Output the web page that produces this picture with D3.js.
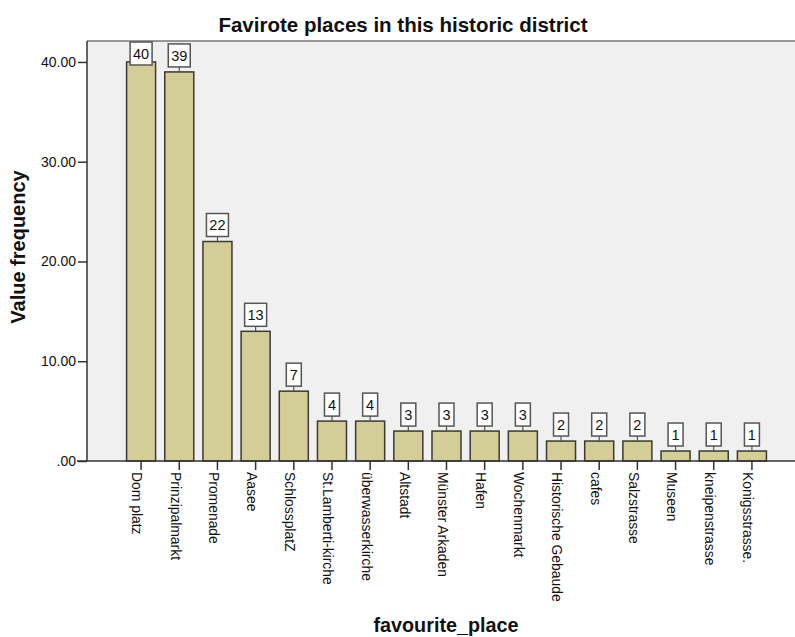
<!DOCTYPE html>
<html>
<head>
<meta charset="utf-8">
<script src="https://cdn.jsdelivr.net/npm/d3@7"></script>
<style>
  body { margin: 0; background: #fff; }
  text { font-family: "Liberation Sans", Arial, sans-serif; fill: #111; }
  .axis path, .axis line { stroke: #333; stroke-width: 1.5; }
</style>
</head>
<body>
<div id="chart"></div>
<script>
// data
var places = ["Dom platz", "Prinzipalmarkt", "Promenade", "Aasee", "SchlossplatZ",
  "St.Lamberti-kirche", "überwasserkirche", "Altstadt", "Münster Arkaden", "Hafen",
  "Wochenmarkt", "Historische Gebaude", "cafes", "Salzstrasse", "Museen",
  "kneipenstrasse", "Konigsstrasse."];
var counts = [40, 39, 22, 13, 7, 4, 4, 3, 3, 3, 3, 2, 2, 2, 1, 1, 1];
var y_ticks = [0, 10, 20, 30, 40];

var data = places.map(function(p, i) { return {name: p, value: counts[i]}; });

var width = 795, height = 637;
var plot = {left: 87, top: 41, right: 795, bottom: 461};

var svg = d3.select("#chart")
  .append("svg")
  .attr("width", width)
  .attr("height", height);

var xScale = d3.scaleBand()
  .range([122, 771])
  .domain(places)
  .paddingInner(0.24)
  .paddingOuter(0.12);

var yScale = d3.scaleLinear()
  .range([plot.bottom, plot.top])
  .domain([0, 42.1]);

// tick labels like spss: .00, 10.00 ...
function fmt(v) { return v === 0 ? ".00" : d3.format(".2f")(v); }

// plot background
svg.append("rect")
  .attr("x", plot.left)
  .attr("y", plot.top)
  .attr("width", plot.right - plot.left)
  .attr("height", plot.bottom - plot.top)
  .attr("fill", "#f0f0f0");

svg.append("line")
  .attr("x1", plot.left).attr("x2", plot.right)
  .attr("y1", plot.top).attr("y2", plot.top)
  .attr("stroke", "#777").attr("stroke-width", 1.5);

// y axis
var yAxis = svg.append("g")
  .attr("class", "axis")
  .attr("transform", "translate(" + plot.left + ",0)")
  .call(d3.axisLeft(yScale).tickValues(y_ticks).tickFormat(fmt).tickSize(9).tickSizeOuter(0));
yAxis.select(".domain").attr("d", "M0," + plot.top + "V" + plot.bottom);
yAxis.selectAll("text")
  .attr("x", -11)
  .style("font-size", "14px")
  .style("font-family", "Liberation Sans, Arial, sans-serif")
  .attr("fill", "#111");

// bars
svg.selectAll(".bar")
  .data(data)
  .enter()
  .append("rect")
  .attr("class", "bar")
  .attr("x", function(d) { return xScale(d.name); })
  .attr("y", function(d) { return yScale(d.value); })
  .attr("width", xScale.bandwidth())
  .attr("height", function(d) { return yScale(0) - yScale(d.value); })
  .attr("fill", "#d3ce98")
  .attr("stroke", "#3a3a32")
  .attr("stroke-width", 1.5);

// x axis (zero line + ticks under each bar)
var xAxis = svg.append("g")
  .attr("class", "axis")
  .attr("transform", "translate(0," + plot.bottom + ")")
  .call(d3.axisBottom(xScale).tickSize(9).tickSizeOuter(0));
xAxis.select(".domain").attr("d", "M" + (plot.left - 10) + ",0H" + plot.right);
xAxis.selectAll("text")
  .attr("transform", "rotate(90)")
  .attr("x", 11)
  .attr("y", 0)
  .attr("dy", "0.62em")
  .attr("dx", 0)
  .style("text-anchor", "start")
  .style("font-size", "13.9px")
  .style("font-family", "Liberation Sans, Arial, sans-serif")
  .attr("fill", "#111");

// value labels in boxes
var box_h = 23;
var labels = svg.selectAll(".vlabel")
  .data(data)
  .enter()
  .append("g")
  .attr("class", "vlabel");

function box_w(d) { return String(d.value).length > 1 ? 22 : 15; }
function box_y(d) { return Math.max(plot.top + 1, yScale(d.value) - 5 - box_h); }
function cx(d) { return xScale(d.name) + xScale.bandwidth() / 2; }

labels.append("line")
  .attr("x1", cx).attr("x2", cx)
  .attr("y1", function(d) { return box_y(d) + box_h; })
  .attr("y2", function(d) { return yScale(d.value); })
  .attr("stroke", "#555").attr("stroke-width", 1.2);

labels.append("rect")
  .attr("x", function(d) { return cx(d) - box_w(d) / 2; })
  .attr("y", box_y)
  .attr("width", box_w)
  .attr("height", box_h)
  .attr("fill", "#fff")
  .attr("stroke", "#555")
  .attr("stroke-width", 1.5);

labels.append("text")
  .attr("x", cx)
  .attr("y", function(d) { return box_y(d) + box_h / 2; })
  .attr("dy", "0.36em")
  .attr("text-anchor", "middle")
  .style("font-size", "14.5px")
  .text(function(d) { return d.value; });

// title + axis titles
svg.append("text")
  .attr("x", 403)
  .attr("y", 32)
  .attr("text-anchor", "middle")
  .style("font-size", "20.5px")
  .style("font-weight", "bold")
  .text("Favirote places in this historic district");

svg.append("text")
  .attr("transform", "translate(25,247) rotate(-90)")
  .attr("text-anchor", "middle")
  .style("font-size", "20px")
  .style("font-weight", "bold")
  .text("Value frequency");

svg.append("text")
  .attr("x", 446)
  .attr("y", 632)
  .attr("text-anchor", "middle")
  .style("font-size", "19.8px")
  .style("font-weight", "bold")
  .text("favourite_place");
</script>
</body>
</html>
